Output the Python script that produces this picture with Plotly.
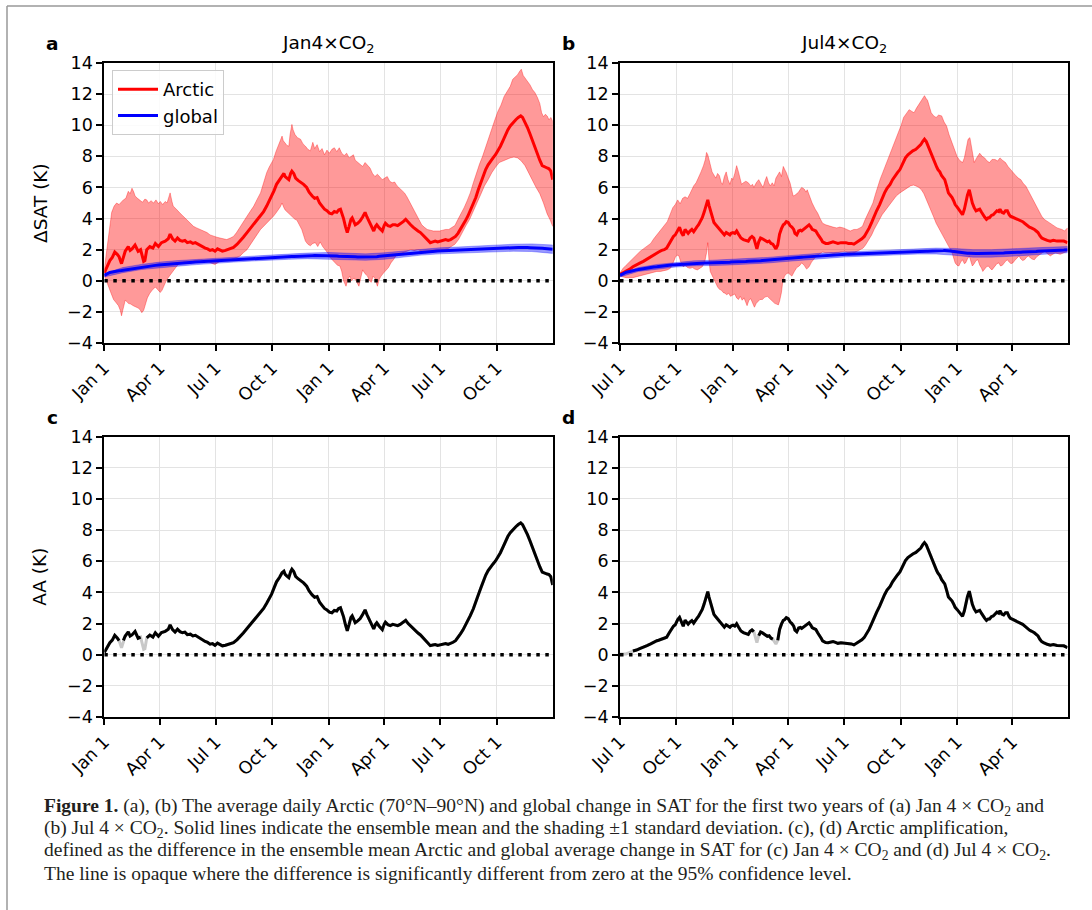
import plotly.graph_objects as go

# ---------------- data ----------------
# Jan4xCO2 experiment: days since Jan 1 of year 1
jan_days = [
    0, 4, 9, 13, 17, 21, 24, 28, 31, 34,
    39, 42, 45, 50, 55, 59, 64, 66, 69, 74,
    79, 83, 88, 93, 99, 104, 107, 111, 115, 119,
    123, 127, 131, 135, 140, 144, 148, 152, 156, 160,
    164, 168, 172, 176, 180, 184, 188, 192, 197, 201,
    205, 210, 216, 221, 226, 232, 237, 243, 248, 254,
    259, 264, 268, 272, 276, 280, 285, 289, 292, 294,
    297, 300, 303, 305, 308, 311, 315, 319, 324, 329,
    333, 338, 342, 346, 350, 354, 358, 362, 366, 370,
    374, 378, 381, 384, 387, 389, 392, 395, 398, 401,
    403, 406, 408, 412, 416, 420, 424, 427, 430, 434,
    438, 441, 443, 447, 452, 455, 457, 461, 465, 469,
    473, 477, 481, 486, 490, 494, 498, 502, 506, 510,
    514, 518, 522, 526, 530, 534, 538, 542, 547, 551,
    555, 559, 563, 567, 571, 575, 579, 583, 587, 591,
    595, 600, 604, 608, 612, 616, 620, 624, 628, 632,
    636, 640, 644, 648, 652, 656, 660, 665, 669, 673,
    677, 680, 682, 685, 688, 692, 696, 700, 704, 708,
    712, 716, 720, 723, 726, 729,
]
jan_arctic = [
    0.5, 0.9, 1.3, 1.5, 1.85, 1.7, 1.55, 1.1, 1.6, 1.9,
    2.2, 1.95, 2.05, 2.3, 1.9, 2.0, 1.25, 1.3, 2.0, 2.2,
    2.1, 2.4, 2.2, 2.45, 2.55, 2.7, 3.0, 2.7, 2.55, 2.75,
    2.6, 2.55, 2.6, 2.45, 2.5, 2.4, 2.45, 2.35, 2.3, 2.2,
    2.1, 2.05, 1.95, 2.0, 1.9, 2.05, 2.0, 1.9, 1.95, 2.0,
    2.05, 2.15, 2.35, 2.55, 2.8, 3.1, 3.35, 3.6, 3.85, 4.15,
    4.45, 4.8, 5.1, 5.4, 5.8, 6.2, 6.5, 6.8, 6.9, 6.7,
    6.6, 6.5, 6.9, 7.05, 6.9, 6.6, 6.45, 6.35, 6.2, 6.0,
    5.7, 5.45, 5.3, 5.35, 5.0, 4.8, 4.6, 4.5, 4.35, 4.3,
    4.45, 4.4, 4.55, 4.6, 4.3, 4.0, 3.5, 3.1, 3.5, 3.95,
    4.05, 3.8, 3.6, 3.7, 3.85, 4.1, 4.4, 4.1, 3.85, 3.5,
    3.2, 3.5, 3.6, 3.4, 3.2, 3.55, 3.7, 3.55, 3.5, 3.6,
    3.6, 3.55, 3.65, 3.8, 3.95, 3.75, 3.6, 3.45, 3.3, 3.2,
    3.1, 2.95, 2.75, 2.6, 2.45, 2.5, 2.55, 2.5, 2.55, 2.6,
    2.65, 2.6, 2.65, 2.75, 2.85, 3.05, 3.3, 3.55, 3.85, 4.15,
    4.5, 4.95, 5.35, 5.85, 6.3, 6.75, 7.15, 7.45, 7.7, 7.9,
    8.1, 8.35, 8.65, 9.0, 9.4, 9.7, 9.95, 10.2, 10.35, 10.5,
    10.6, 10.5, 10.35, 10.15, 9.85, 9.45, 9.0, 8.6, 8.2, 7.75,
    7.4, 7.3, 7.25, 7.2, 7.05, 6.5,
]
jan_global = [
    0.35, 0.45, 0.53, 0.56, 0.6, 0.62, 0.64, 0.66, 0.68, 0.7,
    0.73, 0.75, 0.78, 0.81, 0.84, 0.87, 0.9, 0.91, 0.92, 0.94,
    0.97, 0.99, 1.01, 1.03, 1.05, 1.07, 1.08, 1.09, 1.1, 1.11,
    1.12, 1.14, 1.15, 1.16, 1.18, 1.19, 1.2, 1.21, 1.22, 1.23,
    1.25, 1.26, 1.27, 1.29, 1.3, 1.31, 1.32, 1.33, 1.34, 1.35,
    1.36, 1.37, 1.38, 1.39, 1.4, 1.42, 1.43, 1.44, 1.45, 1.47,
    1.48, 1.49, 1.5, 1.51, 1.51, 1.52, 1.53, 1.54, 1.54, 1.54,
    1.55, 1.55, 1.56, 1.56, 1.56, 1.57, 1.57, 1.58, 1.59, 1.6,
    1.6, 1.61, 1.62, 1.62, 1.63, 1.63, 1.63, 1.62, 1.62, 1.61,
    1.6, 1.59, 1.58, 1.58, 1.57, 1.57, 1.56, 1.56, 1.55, 1.55,
    1.55, 1.54, 1.54, 1.53, 1.53, 1.52, 1.52, 1.52, 1.52, 1.53,
    1.54, 1.55, 1.55, 1.57, 1.59, 1.6, 1.61, 1.62, 1.63, 1.65,
    1.67, 1.68, 1.7, 1.72, 1.74, 1.75, 1.77, 1.78, 1.79, 1.81,
    1.83, 1.84, 1.85, 1.86, 1.87, 1.88, 1.9, 1.91, 1.92, 1.93,
    1.93, 1.94, 1.94, 1.95, 1.95, 1.96, 1.96, 1.97, 1.98, 1.98,
    1.99, 2.0, 2.01, 2.02, 2.03, 2.04, 2.05, 2.05, 2.06, 2.07,
    2.08, 2.09, 2.1, 2.1, 2.11, 2.11, 2.12, 2.13, 2.13, 2.14,
    2.14, 2.15, 2.15, 2.14, 2.14, 2.13, 2.13, 2.12, 2.11, 2.1,
    2.09, 2.08, 2.07, 2.05, 2.04, 2.02,
]
jan_upper_days = [
    0, 3, 7, 10, 12, 16, 20, 24, 28, 31, 35, 39, 42, 45, 48, 50, 54, 58, 62, 66,
    69, 72, 76, 80, 84, 88, 91, 95, 99, 102, 105, 107, 110, 112, 116, 119, 123, 127, 131, 134,
    138, 142, 145, 150, 156, 162, 167, 172, 178, 183, 188, 194, 199, 205, 210, 215, 221, 226, 232, 237,
    243, 248, 254, 259, 264, 268, 272, 275, 279, 283, 286, 289, 291, 294, 297, 300, 302, 305, 307, 310,
    314, 319, 323, 327, 331, 335, 339, 342, 346, 350, 354, 358, 362, 366, 370, 374, 378, 382, 386, 390,
    394, 398, 402, 405, 408, 412, 416, 420, 424, 428, 432, 436, 440, 444, 448, 452, 456, 460, 464, 468,
    472, 476, 480, 484, 488, 492, 496, 500, 504, 508, 512, 516, 520, 525, 530, 535, 540, 545, 550, 555,
    560, 565, 570, 575, 580, 585, 590, 595, 600, 605, 610, 615, 620, 625, 630, 635, 640, 645, 650, 655,
    660, 664, 668, 672, 675, 678, 681, 684, 688, 692, 696, 700, 704, 708, 711, 714, 717, 720, 723, 726,
    729,
]
jan_upper = [
    0.75, 1.6, 2.65, 3.8, 4.4, 4.8, 5.0, 4.9, 5.1, 5.2, 5.3, 5.75, 5.6, 5.95, 5.7, 5.45, 5.3, 5.2, 5.05, 5.25,
    5.2, 5.0, 5.15, 5.0, 5.2, 4.95, 5.1, 4.9, 5.1, 5.0, 5.45, 5.65, 5.1, 4.8, 4.65, 4.5, 4.35, 4.2, 4.05, 3.95,
    3.8, 3.6, 3.5, 3.4, 3.3, 3.2, 3.1, 2.95, 2.85, 2.8, 2.75, 2.7, 2.65, 2.75, 2.85, 3.1, 3.5, 3.8, 4.15, 4.45,
    4.8, 5.2, 5.65, 6.3, 6.95, 7.3, 7.55, 7.8, 8.3, 8.65, 9.0, 9.3, 9.0, 8.85, 8.7, 8.65, 9.4, 10.05, 9.7, 9.4,
    9.2, 9.1, 8.8, 8.65, 8.45, 8.35, 8.9, 8.5, 8.75, 8.3, 8.5, 8.1, 8.4, 8.2, 8.45, 8.55, 8.3, 8.55, 8.2, 8.05,
    8.2, 7.9, 8.0, 8.1, 7.75, 7.6, 7.45, 7.35, 7.6, 7.4, 7.25, 6.9, 6.7, 6.85, 6.7, 6.5, 6.6, 6.7, 6.4, 6.3,
    6.35, 6.1, 5.95, 5.8, 5.65, 5.4, 5.1, 4.8, 4.5, 4.15, 3.9, 3.6, 3.45, 3.3, 3.25, 3.2, 3.2, 3.2, 3.25, 3.3,
    3.3, 3.4, 3.55, 3.95, 4.3, 4.7, 5.15, 5.65, 6.3, 6.95, 7.5, 8.0, 8.6, 9.3, 9.85, 10.35, 10.9, 11.3, 11.85, 12.2,
    12.5, 12.95, 13.1, 13.25, 13.45, 13.6, 13.2, 13.05, 12.8, 12.6, 12.3, 12.1, 11.8, 11.4, 10.8, 10.55, 10.7, 10.6, 10.35, 10.5,
    10.25,
]
jan_lower_days = [
    0, 3, 7, 11, 15, 19, 23, 26, 28, 30, 34, 37, 39, 43, 47, 51, 55, 58, 61, 64,
    66, 70, 74, 78, 83, 87, 91, 94, 96, 99, 102, 106, 110, 114, 118, 122, 126, 130, 135, 140,
    145, 150, 156, 162, 168, 172, 176, 180, 184, 188, 194, 199, 205, 210, 216, 221, 226, 232, 237, 243,
    248, 254, 259, 264, 270, 275, 279, 283, 286, 289, 292, 294, 298, 302, 306, 310, 313, 317, 321, 324,
    327, 331, 335, 339, 343, 347, 351, 355, 359, 363, 367, 371, 375, 379, 383, 386, 389, 391, 393, 396,
    399, 402, 405, 408, 412, 414, 417, 420, 424, 428, 431, 434, 437, 440, 444, 447, 450, 454, 458, 462,
    466, 470, 474, 480, 486, 492, 498, 504, 510, 516, 522, 528, 534, 540, 546, 552, 558, 564, 570, 576,
    582, 588, 594, 600, 606, 612, 618, 624, 630, 636, 642, 648, 654, 660, 666, 672, 678, 684, 690, 696,
    702, 708, 714, 720, 725, 729,
]
jan_lower = [
    0.35, 0.0, -0.35, -0.8, -1.2, -1.4, -1.6, -1.9, -2.25, -1.9, -1.25, -1.35, -1.45, -1.5, -1.6, -1.7, -1.75, -1.85, -2.05, -1.9,
    -1.6, -1.1, -0.8, -0.6, -0.4, -0.55, -0.75, -0.6, -0.5, -0.15, 0.1, 0.3, 0.5, 0.75, 0.95, 1.1, 1.15, 1.2, 1.15, 1.15,
    1.25, 1.3, 1.35, 1.3, 1.25, 1.2, 1.1, 1.05, 1.15, 1.25, 1.3, 1.35, 1.35, 1.4, 1.5, 1.6, 1.8, 2.0, 2.3, 2.65,
    2.95, 3.3, 3.5, 3.7, 3.95, 4.15, 4.35, 4.55, 4.75, 5.0, 4.7, 4.55, 4.35, 4.25, 4.1, 3.95, 3.9, 3.6, 3.3, 2.9,
    2.55, 2.35, 2.25, 2.4, 2.45, 2.2, 2.5, 2.2, 2.0, 1.8, 1.5, 1.3, 1.15, 1.0, 0.95, 0.6, 0.0, -0.15, -0.35, 0.1,
    0.3, 0.0, 0.15, 0.1, -0.2, -0.35, 0.2, 0.7, 0.45, 0.3, 0.0, -0.1, 0.3, 0.15, -0.35, 0.1, 0.3, 0.5, 0.7, 0.85,
    1.15, 1.35, 1.6, 1.7, 1.8, 1.9, 2.0, 1.95, 2.0, 1.9, 1.8, 1.85, 1.9, 2.0, 1.95, 2.0, 2.05, 2.2, 2.35, 2.65,
    3.1, 3.55, 3.95, 4.5, 5.0, 5.55, 6.1, 6.5, 6.95, 7.3, 7.6, 7.7, 7.8, 7.9, 7.95, 7.9, 7.7, 7.4, 7.0, 6.5,
    6.0, 5.6, 5.0, 4.3, 3.9, 3.5,
]
# global-mean +/- 1 s.d. envelope (Jan4xCO2)
band_days = [0, 30, 60, 90, 120, 150, 180, 210, 240, 270, 300, 330, 365,
             395, 425, 455, 485, 515, 545, 575, 605, 635, 665, 695, 729]
jan_global_hi = [0.45, 0.85, 1.05, 1.2, 1.3, 1.38, 1.45, 1.52, 1.58, 1.65, 1.72, 1.78, 1.82,
                 1.78, 1.73, 1.8, 1.92, 2.03, 2.12, 2.17, 2.23, 2.3, 2.35, 2.37, 2.3]
jan_global_lo = [0.25, 0.52, 0.72, 0.84, 0.94, 1.04, 1.13, 1.2, 1.27, 1.34, 1.38, 1.42, 1.42,
                 1.36, 1.32, 1.38, 1.52, 1.65, 1.73, 1.76, 1.8, 1.86, 1.9, 1.88, 1.76]

# Jul4xCO2 experiment: days since Jul 1 of year 1
jul_days = [
    0, 5, 10, 16, 21, 27, 33, 38, 44, 50,
    55, 60, 63, 68, 72, 76, 80, 84, 87, 90,
    94, 97, 100, 103, 106, 109, 111, 114, 117, 120,
    122, 125, 128, 131, 134, 137, 139, 141, 143, 145,
    148, 151, 153, 156, 159, 162, 165, 168, 170, 173,
    176, 179, 181, 184, 187, 190, 193, 197, 201, 205,
    209, 212, 215, 218, 221, 223, 226, 229, 232, 236,
    240, 243, 246, 249, 252, 254, 257, 260, 263, 266,
    268, 271, 274, 277, 280, 283, 285, 288, 291, 294,
    296, 299, 302, 305, 308, 311, 313, 316, 319, 322,
    325, 328, 330, 335, 339, 343, 347, 351, 355, 360,
    364, 368, 372, 377, 381, 385, 389, 394, 398, 402,
    406, 410, 414, 418, 423, 427, 431, 435, 440, 444,
    448, 452, 456, 460, 465, 469, 473, 477, 482, 486,
    490, 493, 496, 499, 501, 504, 507, 510, 513, 516,
    518, 521, 524, 527, 529, 532, 535, 538, 541, 544,
    546, 549, 552, 555, 558, 561, 563, 566, 569, 571,
    574, 577, 580, 583, 586, 589, 591, 594, 597, 600,
    602, 605, 608, 611, 614, 617, 619, 622, 625, 628,
    631, 634, 636, 639, 642, 645, 648, 651, 653, 656,
    659, 662, 664, 667, 670, 673, 675, 678, 681, 684,
    687, 690, 692, 696, 701, 706, 712, 717, 723, 729,
]
jul_arctic = [
    0.4, 0.5, 0.6, 0.75, 0.9, 1.0, 1.15, 1.25, 1.4, 1.55,
    1.7, 1.8, 1.85, 1.95, 2.0, 2.1, 2.4, 2.7, 2.85, 2.95,
    3.3, 3.45, 3.1, 2.9, 3.3, 3.1, 3.05, 3.2, 3.3, 3.15,
    3.3, 3.45, 3.6, 3.8, 4.05, 4.4, 4.7, 4.95, 5.2, 4.85,
    4.4, 4.0, 3.75, 3.6, 3.45, 3.3, 3.2, 3.05, 2.95, 3.1,
    3.05, 2.95, 3.05, 3.1, 3.05, 3.2, 3.0, 2.75, 2.65, 2.6,
    2.55, 2.75, 2.85, 2.75, 2.3, 2.05, 2.5, 2.75, 2.7, 2.6,
    2.5, 2.55, 2.4, 2.35, 2.2, 2.05, 2.3, 3.0, 3.35, 3.6,
    3.65, 3.8, 3.75, 3.55, 3.45, 3.3, 3.05, 2.95, 3.2, 3.25,
    3.2, 3.3, 3.35, 3.5, 3.6, 3.45, 3.3, 3.25, 3.2, 3.0,
    2.85, 2.65, 2.5, 2.4, 2.4, 2.45, 2.5, 2.45, 2.4, 2.45,
    2.45, 2.45, 2.4, 2.4, 2.35, 2.45, 2.55, 2.7, 2.85, 3.1,
    3.4, 3.75, 4.15, 4.5, 4.9, 5.3, 5.65, 5.95, 6.2, 6.5,
    6.75, 6.95, 7.15, 7.5, 7.9, 8.1, 8.25, 8.35, 8.45, 8.6,
    8.75, 8.95, 9.1, 8.95, 8.75, 8.4, 8.1, 7.8, 7.5, 7.3,
    7.15, 7.0, 6.75, 6.6, 6.5, 6.1, 5.65, 5.5, 5.35, 5.1,
    4.9, 4.75, 4.6, 4.4, 4.25, 4.6, 5.0, 5.5, 5.85, 5.5,
    5.0, 4.7, 4.5, 4.55, 4.6, 4.4, 4.25, 4.1, 3.95, 4.05,
    4.05, 4.2, 4.25, 4.4, 4.5, 4.45, 4.6, 4.4, 4.35, 4.5,
    4.5, 4.25, 4.15, 4.1, 4.05, 4.0, 3.95, 3.9, 3.85, 3.8,
    3.7, 3.6, 3.5, 3.45, 3.4, 3.35, 3.3, 3.2, 3.1, 2.9,
    2.75, 2.7, 2.65, 2.6, 2.55, 2.6, 2.55, 2.55, 2.55, 2.45,
]
jul_global = [
    0.35, 0.45, 0.55, 0.6, 0.66, 0.7, 0.74, 0.78, 0.81, 0.85,
    0.88, 0.9, 0.92, 0.94, 0.96, 0.98, 1.0, 1.01, 1.02, 1.03,
    1.04, 1.05, 1.06, 1.07, 1.08, 1.09, 1.09, 1.1, 1.11, 1.12,
    1.12, 1.13, 1.13, 1.14, 1.14, 1.15, 1.15, 1.15, 1.15, 1.15,
    1.15, 1.16, 1.16, 1.16, 1.17, 1.17, 1.17, 1.18, 1.18, 1.18,
    1.19, 1.19, 1.2, 1.2, 1.21, 1.21, 1.22, 1.23, 1.23, 1.24,
    1.25, 1.25, 1.26, 1.27, 1.27, 1.28, 1.28, 1.29, 1.3, 1.31,
    1.32, 1.33, 1.34, 1.35, 1.35, 1.36, 1.37, 1.38, 1.39, 1.4,
    1.41, 1.42, 1.43, 1.44, 1.45, 1.46, 1.47, 1.48, 1.49, 1.5,
    1.51, 1.52, 1.53, 1.54, 1.55, 1.56, 1.56, 1.57, 1.58, 1.59,
    1.6, 1.61, 1.61, 1.62, 1.63, 1.64, 1.65, 1.66, 1.67, 1.68,
    1.69, 1.7, 1.7, 1.71, 1.72, 1.72, 1.73, 1.74, 1.74, 1.75,
    1.76, 1.76, 1.77, 1.78, 1.78, 1.79, 1.8, 1.8, 1.81, 1.82,
    1.83, 1.83, 1.84, 1.85, 1.86, 1.86, 1.87, 1.88, 1.88, 1.89,
    1.9, 1.9, 1.9, 1.9, 1.9, 1.9, 1.91, 1.91, 1.91, 1.91,
    1.91, 1.92, 1.93, 1.94, 1.95, 1.95, 1.94, 1.92, 1.9, 1.88,
    1.86, 1.84, 1.82, 1.8, 1.79, 1.78, 1.78, 1.77, 1.77, 1.76,
    1.76, 1.76, 1.75, 1.75, 1.75, 1.75, 1.75, 1.75, 1.75, 1.75,
    1.75, 1.76, 1.76, 1.77, 1.77, 1.78, 1.78, 1.79, 1.79, 1.8,
    1.8, 1.81, 1.81, 1.82, 1.82, 1.83, 1.83, 1.84, 1.84, 1.85,
    1.85, 1.86, 1.86, 1.87, 1.88, 1.88, 1.89, 1.89, 1.9, 1.91,
    1.91, 1.92, 1.92, 1.93, 1.94, 1.95, 1.96, 1.97, 1.98, 2.0,
]
jul_upper_days = [
    0, 5, 10, 16, 21, 27, 33, 38, 44, 50, 55, 60, 66, 71, 77, 82, 86, 90, 94, 98,
    102, 106, 110, 114, 117, 120, 124, 128, 132, 136, 139, 141, 143, 145, 148, 150, 153, 156, 159, 162,
    165, 167, 170, 173, 176, 179, 182, 184, 187, 190, 193, 195, 198, 201, 205, 209, 213, 216, 218, 222,
    226, 230, 233, 236, 239, 242, 245, 248, 251, 254, 257, 260, 263, 266, 269, 271, 274, 277, 280, 282,
    285, 288, 291, 294, 296, 300, 303, 305, 309, 313, 318, 322, 326, 330, 335, 341, 347, 353, 358, 364,
    370, 375, 381, 386, 391, 395, 399, 403, 408, 412, 416, 420, 424, 428, 432, 437, 441, 445, 449, 454,
    458, 462, 466, 471, 475, 479, 483, 487, 491, 494, 496, 499, 501, 504, 507, 511, 515, 519, 524, 528,
    532, 536, 541, 545, 549, 553, 558, 561, 564, 567, 570, 572, 575, 577, 581, 586, 590, 594, 598, 602,
    606, 611, 615, 619, 623, 628, 632, 636, 640, 645, 649, 653, 657, 661, 665, 670, 674, 678, 683, 687,
    691, 695, 700, 704, 708, 712, 716, 720, 724, 729,
]
jul_upper = [
    0.5, 0.8, 1.0, 1.25, 1.45, 1.7, 1.9, 2.05, 2.2, 2.4, 2.7, 2.95, 3.2, 3.45, 3.8, 4.3, 4.7, 4.9, 5.2, 4.95,
    5.3, 5.4, 5.3, 5.6, 5.9, 6.1, 6.3, 6.6, 7.0, 7.4, 7.8, 8.25, 8.1, 7.8, 7.3, 7.0, 6.8, 6.6, 6.9, 6.75,
    6.3, 6.2, 6.7, 7.0, 6.5, 6.2, 6.6, 6.5, 6.9, 7.4, 7.0, 6.6, 6.2, 6.3, 6.4, 6.3, 6.1, 6.2, 6.0, 6.3,
    6.5, 6.2, 6.0, 6.4, 6.7, 6.3, 6.1, 6.3, 6.1, 6.6, 6.8, 7.0, 6.7, 7.35, 7.1, 6.95, 6.6, 6.3, 5.8, 5.45,
    5.5, 5.6, 5.7, 5.9, 6.0, 5.9, 5.7, 5.85, 5.4, 5.0, 4.6, 4.35, 4.0, 3.7, 3.6, 3.5, 3.45, 3.4, 3.45, 3.4,
    3.3, 3.2, 3.3, 3.3, 3.4, 3.5, 3.9, 4.25, 4.7, 5.0, 5.55, 6.1, 6.55, 6.95, 7.35, 7.8, 8.25, 8.65, 9.05, 9.5,
    10.0, 10.5, 10.75, 11.0, 10.9, 10.8, 11.1, 11.35, 11.6, 11.85, 11.9, 11.7, 11.6, 11.2, 10.8, 10.6, 10.5, 10.65, 10.6, 10.2,
    9.95, 9.4, 8.85, 8.4, 8.0, 7.75, 7.6, 7.9, 8.5, 9.1, 9.2, 8.8, 8.0, 7.6, 7.9, 8.2, 8.0, 7.9, 7.7, 7.6,
    7.8, 7.8, 7.7, 7.9, 7.75, 7.6, 7.35, 7.15, 6.95, 6.75, 6.6, 6.5, 6.25, 6.1, 5.8, 5.45, 5.1, 4.8, 4.45, 4.15,
    3.95, 3.85, 3.7, 3.6, 3.5, 3.4, 3.35, 3.3, 3.2, 3.4,
]
jul_lower_days = [
    0, 5, 10, 16, 21, 27, 33, 38, 44, 50, 55, 60, 66, 71, 77, 82, 86, 90, 93, 96,
    99, 103, 106, 110, 114, 118, 122, 126, 130, 134, 138, 141, 143, 145, 147, 150, 153, 156, 159, 162,
    165, 168, 171, 174, 177, 180, 184, 187, 190, 193, 196, 199, 202, 205, 207, 210, 213, 216, 219, 222,
    225, 228, 232, 236, 240, 244, 248, 252, 255, 258, 260, 263, 265, 268, 271, 274, 277, 280, 284, 288,
    292, 296, 300, 304, 308, 312, 316, 320, 325, 330, 336, 342, 348, 354, 360, 366, 372, 378, 384, 390,
    396, 400, 405, 410, 414, 419, 423, 427, 431, 436, 440, 445, 450, 456, 462, 467, 473, 478, 482, 487,
    491, 495, 499, 503, 507, 511, 515, 520, 524, 528, 532, 537, 541, 544, 546, 549, 552, 555, 558, 561,
    563, 566, 569, 572, 574, 577, 580, 583, 586, 589, 591, 594, 597, 600, 603, 606, 608, 611, 614, 617,
    620, 623, 625, 628, 631, 634, 637, 640, 643, 646, 650, 653, 656, 659, 662, 665, 668, 671, 675, 679,
    684, 688, 692, 696, 701, 705, 709, 713, 717, 721, 725, 729,
]
jul_lower = [
    0.3, 0.25, 0.2, 0.2, 0.2, 0.25, 0.35, 0.4, 0.45, 0.5, 0.55, 0.6, 0.6, 0.65, 0.7, 0.8, 1.1, 1.5, 1.65, 1.6,
    1.2, 0.9, 1.0, 0.85, 0.8, 0.85, 0.75, 0.7, 0.8, 0.9, 1.2, 1.8, 2.45, 1.3, 0.6, 0.4, 0.1, -0.15, -0.4, -0.55,
    -0.6, -0.75, -0.8, -0.9, -0.8, -1.0, -0.9, -0.85, -1.1, -1.2, -1.0, -1.25, -1.1, -1.4, -1.6, -1.25, -1.15, -1.35, -1.7, -1.45,
    -1.3, -1.2, -1.2, -1.05, -1.0, -1.15, -1.3, -1.45, -1.5, -1.55, -1.3, -0.75, -0.1, 0.3, 0.45, 0.5, 0.4, 0.3, 0.6, 0.85,
    0.95, 1.15, 1.0, 0.75, 0.9, 1.2, 1.4, 1.6, 1.75, 1.85, 1.8, 1.8, 1.75, 1.8, 1.85, 1.9, 1.8, 1.75, 1.85, 1.95,
    2.1, 2.3, 2.6, 2.95, 3.3, 3.7, 3.95, 4.25, 4.5, 4.75, 4.9, 5.2, 5.45, 5.65, 5.8, 5.95, 6.1, 6.15, 6.1, 6.0,
    5.85, 5.6, 5.2, 4.85, 4.5, 4.1, 3.7, 3.35, 3.1, 2.8, 2.45, 2.1, 1.8, 1.4, 1.15, 1.0, 0.95, 1.2, 1.35, 1.1,
    1.15, 1.4, 1.6, 1.2, 0.95, 1.1, 1.3, 1.35, 1.0, 0.8, 0.6, 0.75, 0.9, 0.95, 0.8, 0.7, 0.75, 0.95, 1.1, 1.15,
    0.95, 1.0, 1.05, 1.25, 1.35, 1.2, 1.1, 1.15, 1.3, 1.45, 1.6, 1.4, 1.3, 1.35, 1.5, 1.6, 1.5, 1.4, 1.35, 1.55,
    1.7, 1.8, 1.9, 1.75, 1.6, 1.7, 1.8, 1.75, 1.7, 1.8, 1.85, 1.9,
]
# global-mean +/- 1 s.d. envelope (Jul4xCO2)
jul_global_hi = [0.45, 0.85, 1.05, 1.18, 1.28, 1.32, 1.38, 1.43, 1.5, 1.6, 1.7, 1.78, 1.85,
                 1.9, 1.96, 2.02, 2.08, 2.1, 2.08, 2.0, 2.0, 2.03, 2.1, 2.15, 2.2]
jul_global_lo = [0.25, 0.6, 0.76, 0.88, 0.96, 0.98, 1.02, 1.07, 1.14, 1.24, 1.34, 1.44, 1.53,
                 1.58, 1.62, 1.66, 1.72, 1.72, 1.64, 1.52, 1.52, 1.57, 1.64, 1.71, 1.8]

# day ranges where Arctic amplification is not significant at the 95% level
jan_not_significant = [(26, 30), (62, 67)]
jul_not_significant = [(0, 18), (220, 224), (251, 256)]

# axis ticks
jan_tick_days = [0, 90, 181, 273, 365, 455, 546, 638]
jan_tick_text = ["Jan 1", "Apr 1", "Jul 1", "Oct 1", "Jan 1", "Apr 1", "Jul 1", "Oct 1"]
jul_tick_days = [0, 92, 184, 274, 365, 457, 549, 639]
jul_tick_text = ["Jul 1", "Oct 1", "Jan 1", "Apr 1", "Jul 1", "Oct 1", "Jan 1", "Apr 1"]
y_ticks = [-4, -2, 0, 2, 4, 6, 8, 10, 12, 14]
y_tick_text = [str(v).replace("-", "\u2212") for v in y_ticks]

# ---------------- figure ----------------
W, H = 1092, 910
ARCTIC = "#ff0000"
GLOBAL = "#0000ff"
FONT = "DejaVu Sans"


def px(x):
    return x / W


def py(y):
    return 1 - y / H


fig = go.Figure()


def band(days_hi, hi, days_lo, lo, fill, edge, xa, ya):
    fig.add_trace(go.Scatter(
        x=list(days_hi) + list(days_lo)[::-1],
        y=list(hi) + list(lo)[::-1],
        fill="toself", fillcolor=fill, mode="lines",
        line=dict(color=edge, width=1), showlegend=False,
        hoverinfo="skip", xaxis=xa, yaxis=ya))


def zero_line(xa, ya):
    fig.add_trace(go.Scatter(
        x=[0, 729], y=[0, 0], mode="lines",
        line=dict(color="black", width=3.5, dash="3.5px,5.5px"),
        showlegend=False, hoverinfo="skip", xaxis=xa, yaxis=ya))


def sat_panel(days, arctic, glob, up_d, up, lo_d, lo, g_hi, g_lo, xa, ya, legend):
    band(up_d, up, lo_d, lo, "rgba(255,0,0,0.40)", "rgba(255,0,0,0.35)", xa, ya)
    fig.add_trace(go.Scatter(x=days, y=arctic, mode="lines", name="Arctic",
                             line=dict(color=ARCTIC, width=3), showlegend=legend,
                             xaxis=xa, yaxis=ya))
    band(band_days, g_hi, band_days, g_lo, "rgba(0,0,255,0.40)", "rgba(0,0,255,0.30)", xa, ya)
    fig.add_trace(go.Scatter(x=days, y=glob, mode="lines", name="global",
                             line=dict(color=GLOBAL, width=3), showlegend=legend,
                             xaxis=xa, yaxis=ya))
    zero_line(xa, ya)


def aa_panel(days, arctic, glob, not_sig, xa, ya):
    aa = [round(a - g, 3) for a, g in zip(arctic, glob)]
    sig = [None if any(lo <= d <= hi for lo, hi in not_sig) else v
           for d, v in zip(days, aa)]
    fig.add_trace(go.Scatter(x=days, y=aa, mode="lines",
                             line=dict(color="#c8c8c8", width=3),
                             showlegend=False, xaxis=xa, yaxis=ya))
    fig.add_trace(go.Scatter(x=days, y=sig, mode="lines", connectgaps=False,
                             line=dict(color="black", width=3),
                             showlegend=False, xaxis=xa, yaxis=ya))
    zero_line(xa, ya)


sat_panel(jan_days, jan_arctic, jan_global, jan_upper_days, jan_upper,
          jan_lower_days, jan_lower, jan_global_hi, jan_global_lo, "x", "y", True)
sat_panel(jul_days, jul_arctic, jul_global, jul_upper_days, jul_upper,
          jul_lower_days, jul_lower, jul_global_hi, jul_global_lo, "x2", "y2", False)
aa_panel(jan_days, jan_arctic, jan_global, jan_not_significant, "x3", "y3")
aa_panel(jul_days, jul_arctic, jul_global, jul_not_significant, "x4", "y4")

# panel frames in pixels: (left, right, top, bottom)
left_px, right_px = (104.3, 552.7), (620.0, 1067.5)
top_px, bottom_px = (63.0, 343.0), (436.7, 717.0)

axis_common = dict(
    showline=True, linecolor="black", linewidth=1.8, mirror=True,
    ticks="outside", ticklen=6, tickwidth=1.5, tickcolor="black",
    showgrid=True, gridcolor="#e3e3e3", gridwidth=1, zeroline=False,
    tickfont=dict(family=FONT, size=17.5, color="black"), automargin=False,
)


def xaxis(col, tickvals, ticktext, anchor):
    l, r = (left_px, right_px)[col]
    return dict(axis_common, domain=[px(l), px(r)], range=[0, 729],
                tickmode="array", tickvals=tickvals, ticktext=ticktext,
                tickangle=-45, anchor=anchor)


def yaxis(row, anchor):
    t, b = (top_px, bottom_px)[row]
    return dict(axis_common, domain=[py(b), py(t)], range=[-4, 14],
                tickmode="array", tickvals=y_ticks, ticktext=y_tick_text,
                anchor=anchor)


annotations = []


def label(text, x, y, size=18.5, bold=False, angle=0, anchor="center", family=FONT,
          color="black"):
    annotations.append(dict(
        text=f"<b>{text}</b>" if bold else text, x=px(x), y=py(y),
        xref="paper", yref="paper", showarrow=False, textangle=angle,
        xanchor=anchor, yanchor="middle",
        font=dict(family=family, size=size, color=color)))


label("Jan4×CO<sub>2</sub>", (left_px[0] + left_px[1]) / 2, 44)
label("Jul4×CO<sub>2</sub>", (right_px[0] + right_px[1]) / 2, 44)
label("a", 52, 43, bold=True)
label("b", 568, 43, bold=True)
label("c", 52, 418, bold=True)
label("d", 568, 418, bold=True)
label("ΔSAT (K)", 40, (top_px[0] + top_px[1]) / 2, angle=-90)
label("AA (K)", 40, (bottom_px[0] + bottom_px[1]) / 2, angle=-90)

caption = [
    "<b>Figure 1.</b> (a), (b) The average daily Arctic (70°N–90°N) and global change in SAT "
    "for the first two years of (a) Jan 4 × CO<sub>2</sub> and",
    "(b) Jul 4 × CO<sub>2</sub>. Solid lines indicate the ensemble mean and the shading ±1 "
    "standard deviation. (c), (d) Arctic amplification,",
    "defined as the difference in the ensemble mean Arctic and global average change in SAT "
    "for (c) Jan 4 × CO<sub>2</sub> and (d) Jul 4 × CO<sub>2</sub>.",
    "The line is opaque where the difference is significantly different from zero at the 95% "
    "confidence level.",
]
for i, line in enumerate(caption):
    label(line, 42, 807 + 22 * i, size=19.5, anchor="left",
          family="Liberation Serif", color="#231f20")

fig.update_layout(
    template="none",
    width=W, height=H,
    margin=dict(l=0, r=0, t=0, b=0),
    paper_bgcolor="white", plot_bgcolor="white",
    xaxis=xaxis(0, jan_tick_days, jan_tick_text, "y"),
    yaxis=yaxis(0, "x"),
    xaxis2=xaxis(1, jul_tick_days, jul_tick_text, "y2"),
    yaxis2=yaxis(0, "x2"),
    xaxis3=xaxis(0, jan_tick_days, jan_tick_text, "y3"),
    yaxis3=yaxis(1, "x3"),
    xaxis4=xaxis(1, jul_tick_days, jul_tick_text, "y4"),
    yaxis4=yaxis(1, "x4"),
    legend=dict(x=px(112), y=py(70), xanchor="left", yanchor="top",
                bgcolor="rgba(255,255,255,0.85)", bordercolor="#cccccc",
                borderwidth=1, font=dict(family=FONT, size=18, color="black"),
                itemwidth=40, tracegroupgap=0),
    annotations=annotations,
    shapes=[
        dict(type="line", xref="paper", yref="paper", x0=px(7), x1=1.0,
             y0=py(6), y1=py(6), line=dict(color="#999999", width=1.5)),
        dict(type="line", xref="paper", yref="paper", x0=px(7), x1=px(7),
             y0=py(6), y1=0.0, line=dict(color="#999999", width=1.5)),
    ],
    showlegend=True,
)

fig.write_html("out.html")
